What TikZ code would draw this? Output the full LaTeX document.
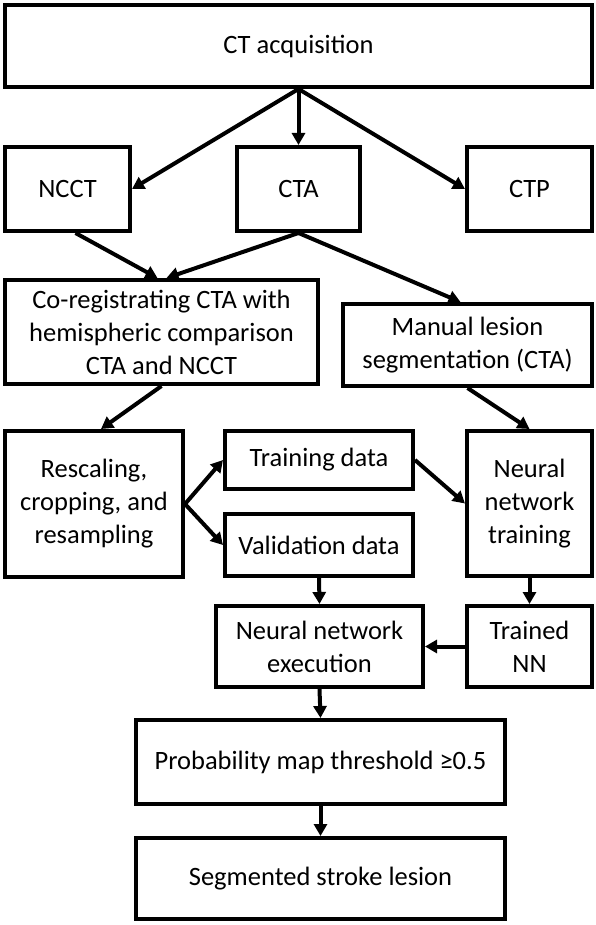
\documentclass[tikz,border=0pt]{standalone}
\usepackage{fontspec}
\setmainfont{Carlito}
\usetikzlibrary{arrows.meta, positioning}

\tikzset{
  box/.style={draw, rectangle, line width=4pt, align=center, inner sep=0pt,
    font=\fontsize{26.5}{33}\selectfont},
  arr/.style={line width=4pt, -{Triangle[length=12pt,width=13pt]}}
}

\begin{document}
\begin{tikzpicture}[x=1pt, y=-1pt]
\useasboundingbox (0,0) rectangle (596,925);
% Nodes
\node[box, minimum width=587pt, minimum height=82pt] (acq) at (298.5,46) {CT acquisition};
\node[box, minimum width=125pt, minimum height=84pt] (ncct) at (67.5,189) {NCCT};
\node[box, minimum width=123pt, minimum height=84pt] (cta) at (298.5,189) {CTA};
\node[box, minimum width=125pt, minimum height=84pt] (ctp) at (529.5,189) {CTP};
\node[box, minimum width=313pt, minimum height=104pt] (coreg) at (161.5,332) {Co-registrating CTA with\\hemispheric comparison\\CTA and NCCT};
\node[box, minimum width=249pt, minimum height=82pt] (manual) at (467.5,345) {Manual lesion\\segmentation (CTA)};
\node[box, minimum width=178pt, minimum height=146pt] (rescale) at (94,504) {Rescaling,\\cropping, and\\resampling};
\node[box, minimum width=188pt, minimum height=58pt] (train) at (319,460) {Training data};
\node[box, minimum width=188pt, minimum height=62pt] (valid) at (319,545) {Validation data};
\node[box, minimum width=125pt, minimum height=145pt] (nntrain) at (529.5,503.5) {Neural\\network\\training};
\node[box, minimum width=207pt, minimum height=81pt] (nnexec) at (319.5,646.5) {Neural network\\execution};
\node[box, minimum width=125pt, minimum height=81pt] (trained) at (529.5,646.5) {Trained\\NN};
\node[box, minimum width=369pt, minimum height=84pt] (prob) at (320.5,762) {Probability map threshold ≥0.5};
\node[box, minimum width=369pt, minimum height=81pt] (seg) at (320.5,878.5) {Segmented stroke lesion};

% Arrows
\draw[arr] (acq.south) -- (ncct.east);
\draw[arr] (acq.south) -- (cta.north);
\draw[arr] (acq.south) -- (ctp.west);
\draw[arr] ([xshift=8pt]ncct.south) -- ([xshift=-4pt]coreg.north);
\draw[arr] (cta.south) -- ([xshift=5pt]coreg.north);
\draw[arr] (cta.south) -- ([xshift=-7pt]manual.north);
\draw[arr] (coreg.south) -- ([xshift=7pt]rescale.north);
\draw[arr] (manual.south) -- (nntrain.north);
\draw[arr] (rescale.east) -- (train.west);
\draw[arr] (rescale.east) -- (valid.west);
\draw[arr] (train.east) -- (nntrain.west);
\draw[arr] (valid.south) -- (nnexec.north);
\draw[arr] (nntrain.south) -- (trained.north);
\draw[arr] (trained.west) -- (nnexec.east);
\draw[arr] (nnexec.south) -- (prob.north);
\draw[arr] (prob.south) -- (seg.north);
\end{tikzpicture}
\end{document}
